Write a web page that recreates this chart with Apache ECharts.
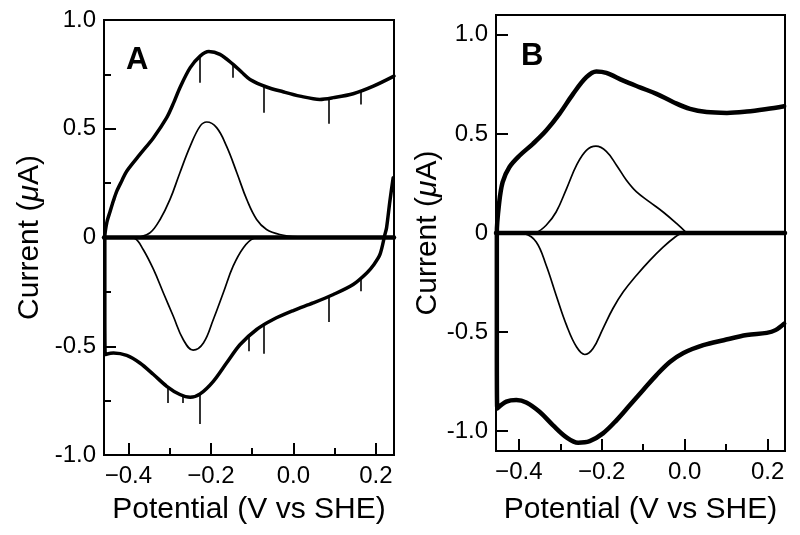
<!DOCTYPE html>
<html>
<head>
<meta charset="utf-8">
<script src="https://cdn.jsdelivr.net/npm/echarts@6/dist/echarts.min.js"></script>
<style>
  html, body { margin: 0; padding: 0; background: #fff; }
  #chart { width: 800px; height: 535px; }
</style>
</head>
<body>
<div id="chart"></div>
<script>
"use strict";

// 刻度
const xMajorTicks = [-0.4, -0.2, 0, 0.2];
const xMinorTicks = [-0.3, -0.1, 0.1];
const yMajorTicks = [-1, -0.5, 0, 0.5, 1];
const yMinorTicksA = [-0.75, -0.25, 0.25, 0.75];

// 坐标范围
const xRangeA = [-0.459, 0.244];
const yRangeA = [-1, 1];
const xRangeB = [-0.455, 0.242];
const yRangeB = [-1.1, 1.1];

// A: 实测 CV (回扫 -> 左端竖线 -> 正扫)
const cvA = [
  [0.242, 0.275], [0.234, 0.167], [0.226, 0.045], [0.222, 0.014], [0.21, -0.078],
  [0.195, -0.125], [0.178, -0.163], [0.145, -0.216], [0.097, -0.262], [0.048, -0.301],
  [0.0, -0.336], [-0.049, -0.377], [-0.089, -0.423], [-0.129, -0.492], [-0.162, -0.577],
  [-0.194, -0.661], [-0.226, -0.719], [-0.25, -0.735], [-0.275, -0.722], [-0.307, -0.684],
  [-0.339, -0.63], [-0.372, -0.577], [-0.404, -0.542], [-0.436, -0.531], [-0.456, -0.538],
  [-0.457, -0.3], [-0.457, 0], [-0.452, 0.07], [-0.444, 0.121], [-0.436, 0.17],
  [-0.428, 0.213], [-0.416, 0.26], [-0.404, 0.305], [-0.372, 0.382], [-0.339, 0.459],
  [-0.307, 0.551], [-0.29, 0.62], [-0.275, 0.689], [-0.25, 0.781],
  [-0.226, 0.834], [-0.205, 0.855], [-0.178, 0.842], [-0.146, 0.796], [-0.125, 0.76],
  [-0.105, 0.727], [-0.065, 0.692], [-0.025, 0.67], [0.016, 0.65], [0.064, 0.635],
  [0.097, 0.643], [0.145, 0.661], [0.194, 0.696], [0.244, 0.742]
];
// A: 噪声尖峰 [电位, 起点, 终点]
const spikesA = [
  [-0.226, 0.834, 0.712], [-0.147, 0.797, 0.735], [-0.071, 0.697, 0.574],
  [0.085, 0.64, 0.523], [0.164, 0.675, 0.612],
  [-0.305, -0.69, -0.761], [-0.267, -0.727, -0.761], [-0.228, -0.72, -0.857],
  [-0.109, -0.455, -0.523], [-0.071, -0.4, -0.535], [0.085, -0.27, -0.388],
  [0.164, -0.186, -0.247]
];
// A: 扣除背景后的峰
const oxA = [
  [-0.39, 0], [-0.372, 0.003], [-0.347, 0.022], [-0.323, 0.083], [-0.299, 0.175],
  [-0.275, 0.298], [-0.25, 0.42], [-0.226, 0.512], [-0.21, 0.531], [-0.186, 0.505],
  [-0.162, 0.42], [-0.137, 0.298], [-0.113, 0.175], [-0.089, 0.083], [-0.065, 0.037],
  [-0.033, 0.014], [0.016, 0.002], [0.05, 0]
];
const redA = [
  [-0.4, 0], [-0.384, -0.005], [-0.364, -0.055], [-0.339, -0.147], [-0.315, -0.255],
  [-0.291, -0.362], [-0.267, -0.469], [-0.243, -0.518], [-0.218, -0.485], [-0.194, -0.377],
  [-0.17, -0.255], [-0.146, -0.132], [-0.121, -0.047], [-0.097, -0.005], [-0.08, 0]
];

// B: 拟合 CV
const cvB = [
  [0.24, -0.457], [0.219, -0.49], [0.198, -0.504], [0.15, -0.515], [0.094, -0.541],
  [0.045, -0.566], [-0.003, -0.605], [-0.035, -0.65], [-0.068, -0.717], [-0.1, -0.792],
  [-0.132, -0.868], [-0.164, -0.944], [-0.197, -1.011], [-0.229, -1.05], [-0.257, -1.058],
  [-0.285, -1.031], [-0.318, -0.969], [-0.35, -0.902], [-0.382, -0.855], [-0.406, -0.843],
  [-0.43, -0.851], [-0.452, -0.885], [-0.453, -0.5], [-0.453, 0], [-0.448, 0.14],
  [-0.439, 0.257], [-0.4225, 0.333], [-0.398, 0.391], [-0.366, 0.45], [-0.334, 0.517],
  [-0.302, 0.601], [-0.269, 0.702], [-0.237, 0.786], [-0.213, 0.815], [-0.189, 0.808],
  [-0.148, 0.769], [-0.108, 0.735], [-0.068, 0.702], [-0.027, 0.66], [0.013, 0.626],
  [0.053, 0.61], [0.102, 0.606], [0.15, 0.613], [0.198, 0.626], [0.24, 0.64]
];
const oxB = [
  [-0.37, 0], [-0.358, 0.003], [-0.334, 0.039], [-0.31, 0.106], [-0.285, 0.223],
  [-0.261, 0.341], [-0.237, 0.417], [-0.214, 0.438], [-0.189, 0.412], [-0.164, 0.341],
  [-0.14, 0.265], [-0.116, 0.207], [-0.084, 0.156], [-0.052, 0.106], [-0.019, 0.047],
  [0.005, 0]
];
const redB = [
  [-0.4, 0], [-0.386, -0.003], [-0.358, -0.045], [-0.334, -0.163], [-0.31, -0.314],
  [-0.285, -0.465], [-0.261, -0.574], [-0.241, -0.613], [-0.221, -0.583], [-0.197, -0.482],
  [-0.173, -0.381], [-0.148, -0.297], [-0.116, -0.213], [-0.084, -0.138], [-0.052, -0.071],
  [-0.023, -0.02], [-0.007, 0]
];

const FONT = "'Liberation Sans', Arial, Helvetica, sans-serif";
const BLACK = "#000";

// x 轴标签用减号
const fmtX = (v) => (v < 0 ? "\u2212" : "") + Math.abs(v).toFixed(1);
const fmtY = (v) => (v === 0 ? "0" : v.toFixed(1));

const xAxisPair = (gridIndex, range, nameGap) => [
  {
    type: "value", gridIndex, min: range[0], max: range[1], position: "bottom",
    name: "Potential (V vs SHE)", nameLocation: "middle", nameGap,
    nameTextStyle: { fontFamily: FONT, fontSize: 30, color: BLACK },
    axisLine: { show: true, onZero: false, lineStyle: { color: BLACK, width: 2 } },
    axisTick: { show: true, inside: true, length: 12, customValues: xMajorTicks, lineStyle: { color: BLACK, width: 2 } },
    axisLabel: { show: true, margin: 9, customValues: xMajorTicks, formatter: fmtX, fontFamily: FONT, fontSize: 24, color: BLACK },
    splitLine: { show: false },
  },
  {
    type: "value", gridIndex, min: range[0], max: range[1], position: "bottom",
    axisLine: { show: false, onZero: false },
    axisTick: { show: true, inside: true, length: 7, customValues: xMinorTicks, lineStyle: { color: BLACK, width: 2 } },
    axisLabel: { show: false },
    splitLine: { show: false },
  },
];

const yAxisMajor = (gridIndex, range, nameGap) => ({
  type: "value", gridIndex, min: range[0], max: range[1], position: "left",
  name: "Current ({i|\u03bc}A)", nameLocation: "middle", nameGap,
  nameTextStyle: {
    fontFamily: FONT, fontSize: 30, color: BLACK,
    rich: { i: { fontFamily: FONT, fontSize: 30, fontStyle: "italic", color: BLACK } },
  },
  axisLine: { show: true, onZero: false, lineStyle: { color: BLACK, width: 2 } },
  axisTick: { show: true, inside: true, length: 12, customValues: yMajorTicks, lineStyle: { color: BLACK, width: 2 } },
  axisLabel: { show: true, margin: 8, customValues: yMajorTicks, formatter: fmtY, fontFamily: FONT, fontSize: 24, color: BLACK },
  splitLine: { show: false },
});

const line = (data, xi, yi, width, smooth) => ({
  type: "line", data, xAxisIndex: xi, yAxisIndex: yi,
  showSymbol: false, symbol: "none", smooth, animation: false, silent: true,
  lineStyle: { color: BLACK, width, join: "round", cap: "round" },
  z: 3,
});

const zero = (range) => [[range[0], 0], [range[1], 0]];

const spikeLines = spikesA.map(([x, a, b]) => [{ coord: [x, a] }, { coord: [x, b] }]);

const cvASeries = line(cvA, 0, 0, 3.5, 0.3);
cvASeries.markLine = {
  silent: true, animation: false, symbol: ["none", "none"],
  label: { show: false },
  lineStyle: { color: BLACK, width: 1.6, type: "solid" },
  data: spikeLines,
};

const option = {
  backgroundColor: "#fff",
  animation: false,
  title: [
    { text: "A", left: 121, top: 40, textStyle: { fontFamily: FONT, fontSize: 31, fontWeight: "bold", color: BLACK } },
    { text: "B", left: 516, top: 36, textStyle: { fontFamily: FONT, fontSize: 31, fontWeight: "bold", color: BLACK } },
  ],
  grid: [
    { left: 104, top: 20, right: 406, bottom: 80, show: true, borderColor: BLACK, borderWidth: 2, backgroundColor: "transparent" },
    { left: 496, top: 15, right: 15, bottom: 84, show: true, borderColor: BLACK, borderWidth: 2, backgroundColor: "transparent" },
  ],
  xAxis: [...xAxisPair(0, xRangeA, 40), ...xAxisPair(1, xRangeB, 44)],
  yAxis: [
    yAxisMajor(0, yRangeA, 59),
    {
      type: "value", gridIndex: 0, min: yRangeA[0], max: yRangeA[1], position: "left",
      axisLine: { show: false, onZero: false },
      axisTick: { show: true, inside: true, length: 7, customValues: yMinorTicksA, lineStyle: { color: BLACK, width: 2 } },
      axisLabel: { show: false },
      splitLine: { show: false },
    },
    yAxisMajor(1, yRangeB, 46),
  ],
  series: [
    line(zero(xRangeA), 0, 0, 4.5, false),
    cvASeries,
    line(oxA, 0, 0, 1.7, 0.4),
    line(redA, 0, 0, 1.7, 0.4),
    line(zero(xRangeB), 2, 2, 4.5, false),
    line(cvB, 2, 2, 4.5, 0.35),
    line(oxB, 2, 2, 1.7, 0.4),
    line(redB, 2, 2, 1.7, 0.4),
  ],
};

const chart = echarts.init(document.getElementById("chart"), null, { renderer: "canvas" });
chart.setOption(option);
</script>
</body>
</html>
